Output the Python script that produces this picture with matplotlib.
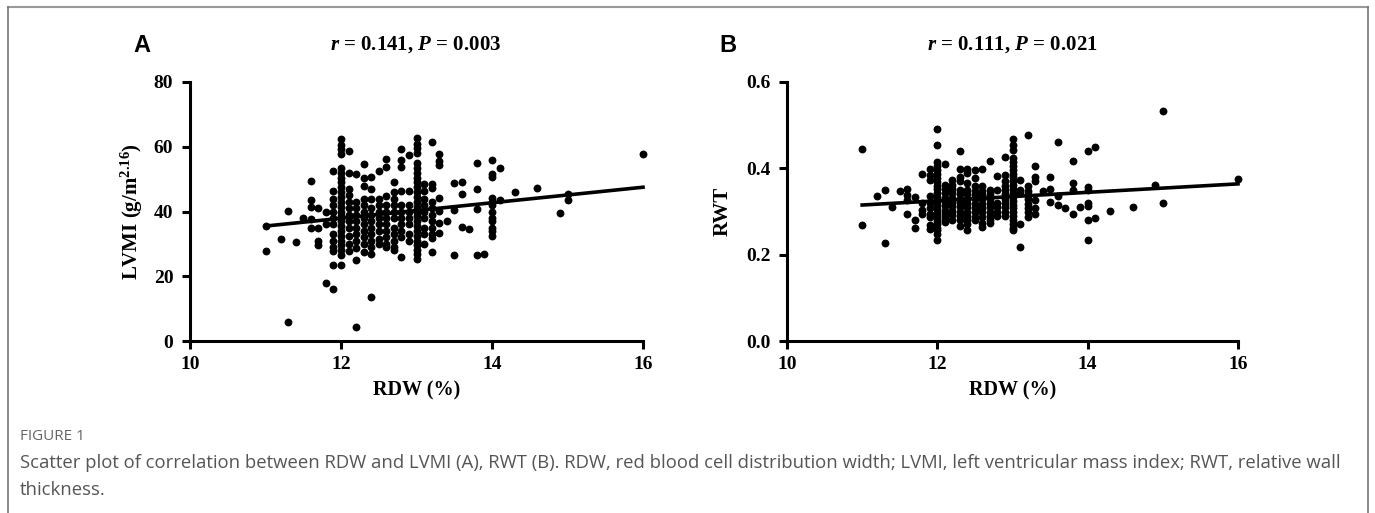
import numpy as np
import matplotlib
matplotlib.use("Agg")
import matplotlib.pyplot as plt
from matplotlib.lines import Line2D

# ---- data ----
rdw_a = [11.0, 11.0,
         11.2,
         11.3, 11.3,
         11.4,
         11.5,
         11.6, 11.6, 11.6, 11.6, 11.6,
         11.7, 11.7, 11.7, 11.7,
         11.8, 11.8, 11.8,
         11.9, 11.9, 11.9, 11.9, 11.9, 11.9, 11.9, 11.9, 11.9, 11.9, 11.9, 11.9, 11.9,
         12.0, 12.0, 12.0, 12.0, 12.0, 12.0, 12.0, 12.0, 12.0, 12.0, 12.0, 12.0,
         12.0, 12.0, 12.0, 12.0, 12.0, 12.0, 12.0, 12.0, 12.0, 12.0, 12.0, 12.0,
         12.1, 12.1, 12.1, 12.1, 12.1, 12.1, 12.1, 12.1, 12.1, 12.1, 12.1, 12.1,
         12.2, 12.2, 12.2, 12.2, 12.2, 12.2, 12.2, 12.2, 12.2, 12.2, 12.2,
         12.3, 12.3, 12.3, 12.3, 12.3, 12.3, 12.3, 12.3, 12.3, 12.3, 12.3, 12.3,
         12.4, 12.4, 12.4, 12.4, 12.4, 12.4, 12.4, 12.4, 12.4, 12.4, 12.4, 12.4,
         12.5, 12.5, 12.5, 12.5, 12.5, 12.5, 12.5, 12.5, 12.5,
         12.6, 12.6, 12.6, 12.6, 12.6, 12.6, 12.6, 12.6, 12.6, 12.6, 12.6,
         12.7, 12.7, 12.7, 12.7, 12.7, 12.7, 12.7, 12.7, 12.7, 12.7, 12.7,
         12.8, 12.8, 12.8, 12.8, 12.8, 12.8, 12.8, 12.8, 12.8, 12.8, 12.8,
         12.9, 12.9, 12.9, 12.9, 12.9, 12.9, 12.9, 12.9,
         13.0, 13.0, 13.0, 13.0, 13.0, 13.0, 13.0, 13.0, 13.0, 13.0, 13.0, 13.0, 13.0,
         13.0, 13.0, 13.0, 13.0, 13.0, 13.0, 13.0, 13.0, 13.0, 13.0, 13.0, 13.0,
         13.1, 13.1, 13.1, 13.1, 13.1, 13.1, 13.1, 13.1, 13.1,
         13.2, 13.2, 13.2, 13.2, 13.2, 13.2, 13.2, 13.2, 13.2, 13.2, 13.2,
         13.3, 13.3, 13.3, 13.3, 13.3, 13.3, 13.3,
         13.4,
         13.5, 13.5, 13.5,
         13.6, 13.6, 13.6,
         13.7,
         13.8, 13.8, 13.8, 13.8,
         13.9,
         14.0, 14.0, 14.0, 14.0, 14.0, 14.0, 14.0, 14.0, 14.0, 14.0, 14.0, 14.0,
         14.1, 14.1,
         14.3,
         14.6,
         14.9,
         15.0, 15.0,
         16.0]
lvmi = [27.7, 35.5,
        31.6,
        40.1, 6.0,
        30.6,
        38.0,
        49.3, 43.7, 41.3, 37.7, 34.9,
        41.1, 34.9, 30.8, 29.8,
        39.9, 36.0, 17.9,
        52.5, 46.3, 44.0, 42.0, 40.0, 38.0, 36.0, 33.0, 31.0, 29.0, 27.7, 23.4, 16.1,
        62.3, 60.6, 59.2, 57.7, 53.5, 52.0, 50.5, 49.0, 47.5, 46.0, 44.5, 43.0,
        41.5, 40.0, 38.5, 37.0, 35.5, 34.0, 32.5, 31.0, 29.5, 28.0, 26.7, 23.6,
        58.7, 52.0, 47.0, 45.0, 43.0, 41.0, 39.0, 37.0, 35.0, 32.5, 30.0, 27.7,
        51.5, 43.0, 41.0, 39.0, 37.0, 35.0, 33.0, 30.8, 28.7, 24.9, 4.2,
        54.8, 50.2, 47.9, 44.0, 42.0, 40.0, 38.0, 36.0, 34.0, 32.0, 30.0, 27.4,
        50.6, 46.8, 44.0, 41.0, 39.0, 37.0, 35.0, 33.0, 31.0, 29.0, 27.0, 13.7,
        52.5, 44.0, 42.0, 40.0, 38.0, 36.0, 34.0, 31.5, 30.0,
        56.3, 53.7, 44.8, 42.0, 40.0, 38.0, 36.0, 34.0, 32.0, 30.0, 29.0,
        49.1, 46.0, 44.0, 42.0, 40.0, 38.0, 35.0, 33.0, 31.0, 29.0, 28.0,
        59.2, 55.8, 53.7, 46.3, 42.0, 40.0, 38.0, 36.0, 34.0, 32.0, 25.8,
        57.5, 46.3, 42.0, 40.0, 38.0, 36.0, 33.0, 31.0,
        62.8, 61.0, 59.5, 58.0, 55.0, 53.5, 52.0, 50.5, 49.0, 47.5, 46.0, 44.5, 43.0,
        41.5, 40.0, 38.5, 37.0, 35.5, 34.0, 32.5, 31.0, 29.5, 28.0, 27.0, 25.4,
        48.4, 46.3, 44.0, 42.0, 40.0, 38.0, 35.0, 33.0, 30.0,
        61.6, 48.4, 47.3, 43.0, 41.0, 39.0, 37.0, 35.0, 33.0, 31.8, 27.5,
        57.7, 55.6, 54.4, 44.2, 40.1, 36.5, 33.4,
        37.2,
        48.9, 40.6, 26.5,
        49.1, 45.3, 35.1,
        34.7,
        55.1, 47.1, 40.9, 26.5,
        27.0,
        55.8, 51.5, 50.6, 44.2, 43.0, 42.0, 40.0, 38.0, 37.0, 35.0, 34.0, 32.4,
        53.5, 43.7,
        46.0,
        47.3,
        39.4,
        45.3, 43.4,
        57.7]

rdw_b = [11.0, 11.0,
         11.2,
         11.3, 11.3,
         11.4,
         11.5,
         11.6, 11.6, 11.6, 11.6,
         11.7, 11.7, 11.7,
         11.8, 11.8, 11.8, 11.8,
         11.9, 11.9, 11.9, 11.9, 11.9, 11.9, 11.9, 11.9, 11.9, 11.9,
         12.0, 12.0, 12.0, 12.0, 12.0, 12.0, 12.0, 12.0, 12.0, 12.0, 12.0, 12.0,
         12.0, 12.0, 12.0, 12.0, 12.0, 12.0, 12.0, 12.0, 12.0, 12.0, 12.0,
         12.1, 12.1, 12.1, 12.1, 12.1, 12.1, 12.1, 12.1, 12.1, 12.1, 12.1,
         12.2, 12.2, 12.2, 12.2, 12.2, 12.2, 12.2, 12.2, 12.2, 12.2,
         12.3, 12.3, 12.3, 12.3, 12.3, 12.3, 12.3, 12.3, 12.3, 12.3, 12.3, 12.3, 12.3,
         12.4, 12.4, 12.4, 12.4, 12.4, 12.4, 12.4, 12.4, 12.4, 12.4, 12.4, 12.4, 12.4,
         12.5, 12.5, 12.5, 12.5, 12.5, 12.5, 12.5, 12.5, 12.5, 12.5, 12.5,
         12.6, 12.6, 12.6, 12.6, 12.6, 12.6, 12.6, 12.6, 12.6, 12.6, 12.6,
         12.7, 12.7, 12.7, 12.7, 12.7, 12.7, 12.7, 12.7, 12.7, 12.7,
         12.8, 12.8, 12.8, 12.8, 12.8, 12.8,
         12.9, 12.9, 12.9, 12.9, 12.9, 12.9, 12.9, 12.9, 12.9, 12.9, 12.9,
         13.0, 13.0, 13.0, 13.0, 13.0, 13.0, 13.0, 13.0, 13.0, 13.0, 13.0, 13.0,
         13.0, 13.0, 13.0, 13.0, 13.0, 13.0, 13.0, 13.0, 13.0, 13.0, 13.0,
         13.1, 13.1, 13.1, 13.1, 13.1,
         13.2, 13.2, 13.2, 13.2, 13.2, 13.2, 13.2, 13.2, 13.2,
         13.3, 13.3, 13.3, 13.3, 13.3, 13.3,
         13.4,
         13.5, 13.5, 13.5,
         13.6, 13.6, 13.6,
         13.7,
         13.8, 13.8, 13.8, 13.8,
         13.9,
         14.0, 14.0, 14.0, 14.0, 14.0, 14.0, 14.0,
         14.1, 14.1,
         14.3,
         14.6,
         14.9,
         15.0, 15.0,
         16.0]
rwt = [0.445, 0.268,
       0.336,
       0.350, 0.227,
       0.311,
       0.348,
       0.352, 0.338, 0.327, 0.294,
       0.334, 0.280, 0.262,
       0.388, 0.319, 0.303, 0.295,
       0.398, 0.385, 0.373, 0.336, 0.319, 0.307, 0.295, 0.287, 0.268, 0.260,
       0.490, 0.453, 0.414, 0.405, 0.396, 0.387, 0.378, 0.369, 0.360, 0.351, 0.342, 0.333,
       0.324, 0.315, 0.306, 0.297, 0.288, 0.279, 0.270, 0.261, 0.256, 0.247, 0.233,
       0.409, 0.362, 0.352, 0.342, 0.332, 0.322, 0.312, 0.302, 0.292, 0.283, 0.276,
       0.373, 0.362, 0.352, 0.342, 0.332, 0.322, 0.312, 0.302, 0.292, 0.280,
       0.441, 0.398, 0.380, 0.370, 0.350, 0.340, 0.330, 0.320, 0.310, 0.300, 0.290, 0.280, 0.266,
       0.398, 0.389, 0.366, 0.350, 0.340, 0.330, 0.320, 0.310, 0.300, 0.290, 0.280, 0.270, 0.256,
       0.395, 0.377, 0.358, 0.348, 0.338, 0.328, 0.318, 0.308, 0.298, 0.288, 0.280,
       0.398, 0.358, 0.348, 0.338, 0.328, 0.318, 0.308, 0.298, 0.288, 0.274, 0.264,
       0.416, 0.350, 0.340, 0.330, 0.320, 0.310, 0.300, 0.290, 0.281, 0.273,
       0.383, 0.350, 0.320, 0.310, 0.300, 0.290,
       0.426, 0.385, 0.370, 0.360, 0.350, 0.340, 0.330, 0.320, 0.310, 0.300, 0.290,
       0.467, 0.455, 0.443, 0.424, 0.415, 0.406, 0.397, 0.388, 0.379, 0.370, 0.361, 0.352,
       0.343, 0.334, 0.325, 0.316, 0.307, 0.298, 0.289, 0.280, 0.271, 0.262, 0.256,
       0.372, 0.350, 0.342, 0.270, 0.217,
       0.477, 0.358, 0.348, 0.338, 0.328, 0.318, 0.308, 0.298, 0.288,
       0.406, 0.380, 0.370, 0.327, 0.307, 0.295,
       0.348,
       0.380, 0.352, 0.323,
       0.462, 0.336, 0.315,
       0.309,
       0.416, 0.367, 0.350, 0.294,
       0.311,
       0.440, 0.356, 0.350, 0.320, 0.3125, 0.281, 0.233,
       0.450, 0.284,
       0.302,
       0.311,
       0.362,
       0.532, 0.319,
       0.376]

# fitted lines as drawn in the figure (slope, intercept)
fit_a = (2.40, 9.10)
fit_b = (0.0098, 0.2072)

titles = [r"$r$ = 0.141, $P$ = 0.003", r"$r$ = 0.111, $P$ = 0.021"]
ylabels = [r"LVMI (g/m$^{2.16}$)", "RWT"]
yticks_a = [0, 20, 40, 60, 80]
yticks_b = [0.0, 0.2, 0.4, 0.6]
xticks = [10, 12, 14, 16]

caption = ("Scatter plot of correlation between RDW and LVMI (A), RWT (B). RDW, red blood cell "
           "distribution width; LVMI, left ventricular mass index; RWT, relative wall")
caption2 = "thickness."

plt.rcParams["font.family"] = "Liberation Serif"
plt.rcParams["font.weight"] = "bold"
plt.rcParams["mathtext.fontset"] = "custom"
plt.rcParams["mathtext.rm"] = "Liberation Serif:bold"
plt.rcParams["mathtext.it"] = "Liberation Serif:bold:italic"
plt.rcParams["mathtext.bf"] = "Liberation Serif:bold"

W, H = 1375, 513
fig = plt.figure(figsize=(W / 100, H / 100), dpi=100)


def style_axes(ax, yticks, fmt):
    for s in ["top", "right"]:
        ax.spines[s].set_visible(False)
    for s in ["left", "bottom"]:
        ax.spines[s].set_linewidth(2.2)
    ax.tick_params(width=2.2, length=6, labelsize=14)
    ax.tick_params(axis="y", pad=6)
    ax.tick_params(axis="x", pad=5)
    ax.set_xlim(10, 16)
    ax.set_xticks(xticks)
    ax.set_yticks(yticks)
    ax.set_yticklabels([fmt.format(v) for v in yticks])
    ax.set_xlabel("RDW (%)", fontsize=14.5, fontweight="bold", labelpad=5)


panels = [
    (190, 643, rdw_a, lvmi, fit_a, yticks_a, "{:d}", (0, 80), 145),
    (787, 1238, rdw_b, rwt, fit_b, yticks_b, "{:.1f}", (0, 0.6), 733),
]
for i, (x0, x1, xs, ys, fit, yt, fmt, ylim, lab_x) in enumerate(panels):
    ax = fig.add_axes([x0 / W, 1 - 341 / H, (x1 - x0) / W, (341 - 82) / H])
    ax.scatter(xs, ys, s=32, color="black", linewidths=0, clip_on=False, zorder=3)
    k, b = fit
    xl = np.array([min(xs), max(xs)])
    ax.plot(xl, k * xl + b, color="black", lw=2.6, zorder=4, clip_on=False)
    ax.set_ylim(*ylim)
    style_axes(ax, yt, fmt)
    ax.set_ylabel(ylabels[i], fontsize=15, fontweight="bold")
    ax.yaxis.set_label_coords((lab_x - x0) / (x1 - x0), 0.5)

fig.text(416 / W, 1 - 45 / H, titles[0], fontsize=15, ha="center", va="center")
fig.text(1012 / W, 1 - 45 / H, titles[1], fontsize=15, ha="center", va="center")
fig.text(142 / W, 1 - 46 / H, "A", fontsize=17, ha="center", va="center",
         family="Liberation Sans", fontweight="bold")
fig.text(728 / W, 1 - 46 / H, "B", fontsize=17, ha="center", va="center",
         family="Liberation Sans", fontweight="bold")

fig.text(20 / W, 1 - 437 / H, "FIGURE 1", fontsize=11, color="#666666",
         family="Open Sans", fontweight="normal", va="center")
fig.text(20 / W, 1 - 463 / H, caption, fontsize=13.3, color="#555555",
         family="Open Sans", fontweight="normal", va="center")
fig.text(20 / W, 1 - 490 / H, caption2, fontsize=13.3, color="#555555",
         family="Open Sans", fontweight="normal", va="center")

# frame lines
fig.add_artist(Line2D([8 / W, 1368 / W], [1 - 7 / H, 1 - 7 / H], color="#999999", lw=1.5))
fig.add_artist(Line2D([8 / W, 8 / W], [1 - 7 / H, 0], color="#777777", lw=1.2))
fig.add_artist(Line2D([1368 / W, 1368 / W], [1 - 7 / H, 0], color="#777777", lw=1.2))

fig.savefig("out.png", dpi=100)
